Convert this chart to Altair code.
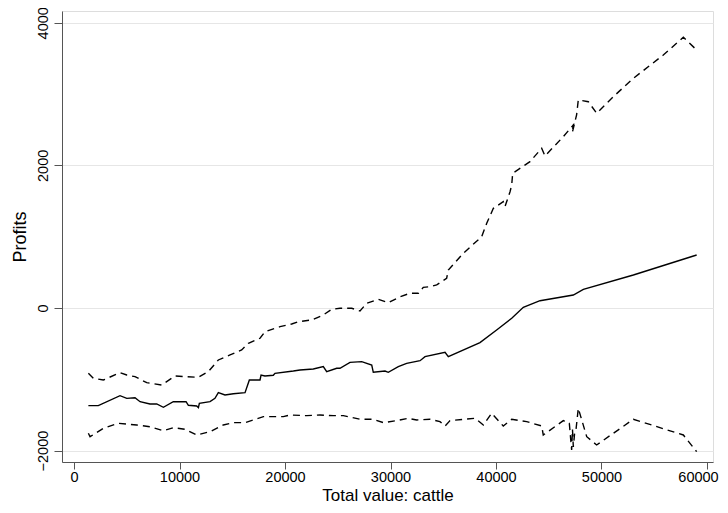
import altair as alt
import pandas as pd

# Solid middle line (fitted profits)
mid_x = [1360, 2300, 4360, 5000, 5780, 6260, 7200, 7840, 8470, 9410, 10620, 10840, 11630, 11790, 11880,
         12890, 13360, 13680, 14310, 15100, 16210, 16620, 17630, 17730, 18100, 18890, 19050, 20790, 21420,
         22680, 23630, 23950, 24900, 25210, 26160, 27270, 28220, 28370, 29480, 29790, 30740, 31530, 32800,
         33270, 35170, 35480, 38480, 40060, 41490, 42590, 44170, 47330, 48280, 53020, 59020]
mid_y = [-1370, -1370, -1230, -1267, -1258, -1314, -1346, -1346, -1393, -1314, -1314, -1365, -1374, -1398, -1337,
         -1314, -1267, -1188, -1220, -1202, -1188, -1010, -1010, -940, -954, -944, -916, -884, -870,
         -856, -823, -893, -846, -846, -762, -753, -800, -902, -884, -902, -823, -776, -739,
         -683, -621, -683, -486, -309, -144, 10, 102, 182, 262, 463, 743]

# Upper dashed band
up_x = [1360, 1830, 2780, 4360, 5000, 5780, 6890, 8310, 9570, 10680, 11790, 12730, 13680, 14790, 15890,
        16530, 17630, 18100, 19530, 20630, 21260, 22530, 23630, 24430, 25210, 26320, 27110, 27740, 28840,
        29790, 30900, 31850, 32640, 33110, 33740, 34380, 35320, 35480, 36900, 38640, 39120, 39750, 40690,
        40850, 41330, 41490, 41580, 43220, 44330, 44640, 46380, 47330, 47230, 47640, 47800, 48750, 49540,
        51120, 53020, 55860, 57760, 59020]
up_y = [-916, -986, -1010, -907, -940, -963, -1047, -1080, -954, -963, -972, -893, -729, -659, -589,
        -495, -425, -332, -262, -224, -192, -168, -98, -18, -4, -4, -42, 66, 122,
        74, 158, 206, 206, 290, 299, 323, 416, 533, 767, 1000, 1188, 1398, 1491,
        1421, 1631, 1725, 1889, 2052, 2240, 2132, 2403, 2567, 2459, 2707, 2917, 2893, 2731,
        2963, 3221, 3548, 3796, 3618]

# Lower dashed band
lo_x = [1360, 1520, 2780, 4200, 5940, 7200, 8470, 9410, 10520, 11630, 12890, 14150, 15100, 16210, 17950,
        19840, 20470, 22060, 23320, 24580, 25530, 27110, 28370, 29320, 30590, 31690, 32480, 33740, 34690,
        35170, 35640, 38010, 38800, 39590, 40690, 41490, 42910, 44330, 44480, 46380, 46950, 47170, 47250,
        47330, 47450, 47580, 47800, 48600, 49540, 53020, 57760, 59020]
lo_y = [-1757, -1805, -1687, -1617, -1641, -1665, -1721, -1679, -1701, -1781, -1735, -1641, -1608, -1608, -1524,
        -1524, -1501, -1510, -1501, -1510, -1510, -1561, -1561, -1608, -1580, -1547, -1571, -1561, -1594,
        -1655, -1580, -1547, -1641, -1477, -1655, -1561, -1594, -1655, -1781, -1580, -1617, -1992, -1700,
        -1950, -1760, -1711, -1407, -1805, -1921, -1561, -1781, -2015]

x_ticks = [0, 10000, 20000, 30000, 40000, 50000, 60000]
y_ticks = [-2000, 0, 2000, 4000]

def frame(xs, ys):
    return pd.DataFrame({"x": xs, "y": ys, "i": list(range(len(xs)))})

xs = alt.Scale(domain=[-1140, 60570], nice=False, zero=False)
ys = alt.Scale(domain=[-2160, 4165], nice=False, zero=False)

x_axis = alt.Axis(values=x_ticks, title="Total value: cattle", grid=False, format="d",
                  labelFontSize=14.5, titleFontSize=17, titleFontWeight="normal", labelColor="#000",
                  titleColor="#000", domainColor="#555", tickColor="#555", tickSize=7,
                  labelOffset=alt.ExprRef("datum.value == 60000 ? -9 : 0"),
                  titleBaseline="alphabetic", titleY=38.5,
                  labelFont="Liberation Sans", titleFont="Liberation Sans", labelPadding=1.5)
y_axis = alt.Axis(values=y_ticks, title="Profits", grid=True, gridColor="#e6e6e6", format="d",
                  labelAngle=270, labelAlign="center", labelBaseline="bottom",
                  labelFontSize=14.5, titleFontSize=18, titleFontWeight="normal", labelColor="#000",
                  titleColor="#000", domainColor="#555", tickColor="#555", tickSize=8,
                  labelFont="Liberation Sans", titleFont="Liberation Sans", titlePadding=6, labelPadding=4)

def layer(df, dash):
    kw = dict(color="black", strokeWidth=1.4, clip=True)
    if dash:
        kw["strokeDash"] = [7, 5]
    return alt.Chart(df).mark_line(**kw).encode(
        x=alt.X("x:Q", scale=xs, axis=x_axis),
        y=alt.Y("y:Q", scale=ys, axis=y_axis),
        order="i:O",
    )

chart = alt.layer(
    layer(frame(up_x, up_y), True),
    layer(frame(mid_x, mid_y), False),
    layer(frame(lo_x, lo_y), True),
).properties(
    width=651, height=451,
    autosize=alt.AutoSizeParams(type="none"),
    padding={"left": 54, "top": 3, "right": 7, "bottom": 42},
).configure_view(stroke=None).configure(background="white")

chart.save("out.html", embed_options={"renderer": "svg", "actions": False})
